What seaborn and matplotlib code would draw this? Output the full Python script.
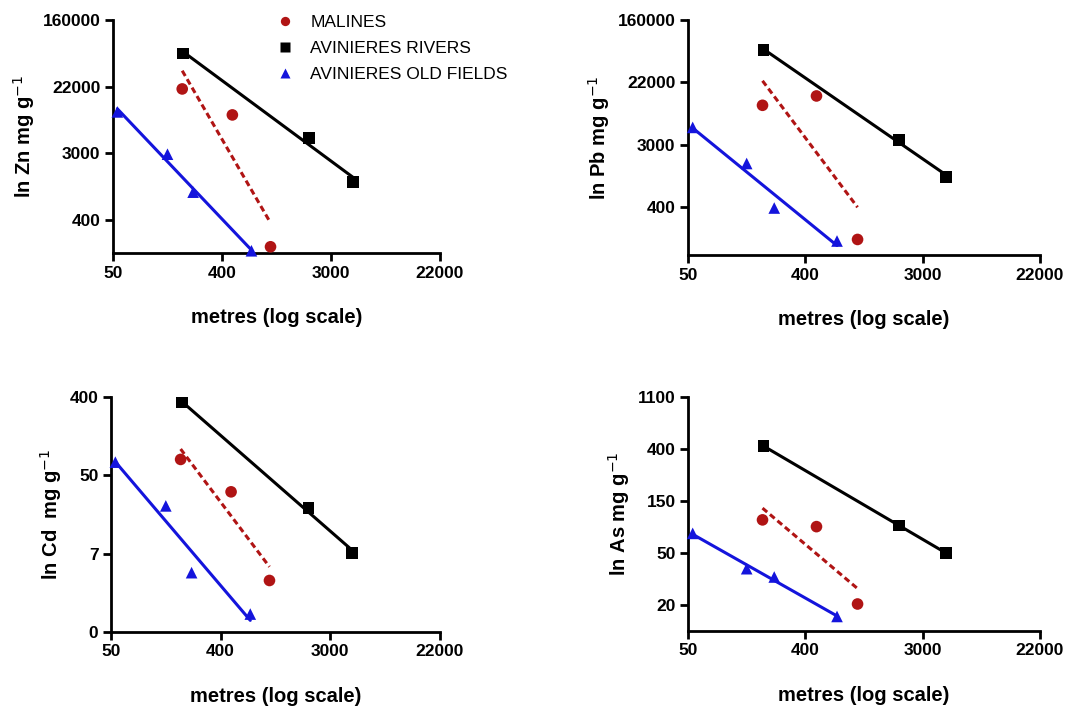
import numpy as np
import pandas as pd
import matplotlib
matplotlib.use("Agg")
import matplotlib.pyplot as plt
import seaborn as sns

# x ticks: ln(metres) 4,6,8,10 labelled with rounded exp values
x_ticks = [4, 6, 8, 10]
x_labels = ["50", "400", "3000", "22000"]

# ln distance of each sampling site
ln_dist_malines = [5.27, 6.19, 6.89]
ln_dist_rivers = [5.29, 7.60, 8.40]
ln_dist_fields = [4.08, 5.00, 5.47, 6.54]

# ln concentrations
zn_malines = [9.93, 9.15, 5.19]
zn_rivers = [10.99, 8.45, 7.13]
zn_fields = [9.24, 7.97, 6.83, 5.07]

pb_malines = [9.26, 9.56, 4.95]
pb_rivers = [11.04, 8.14, 6.96]
pb_fields = [8.55, 7.39, 5.96, 4.90]

cd_malines = [4.41, 3.58, 1.31]
cd_rivers = [5.87, 3.16, 2.01]
cd_fields = [4.34, 3.22, 1.51, 0.45]

as_malines = [4.64, 4.51, 3.02]
as_rivers = [6.06, 4.53, 4.00]
as_fields = [4.38, 3.70, 3.54, 2.78]

series = ["MALINES", "AVINIERES RIVERS", "AVINIERES OLD FIELDS"]
colors = {"MALINES": "#b01414", "AVINIERES RIVERS": "black", "AVINIERES OLD FIELDS": "#1414dc"}
markers = {"MALINES": "o", "AVINIERES RIVERS": "s", "AVINIERES OLD FIELDS": "^"}
dists = {"MALINES": ln_dist_malines, "AVINIERES RIVERS": ln_dist_rivers,
         "AVINIERES OLD FIELDS": ln_dist_fields}

panels = [
    dict(name="Zn", ylabel="ln Zn mg g$^{-1}$", vals=[zn_malines, zn_rivers, zn_fields],
         ylim=(5, 12), yticks=[6, 8, 10, 12], ylabels=["400", "3000", "22000", "160000"],
         rect=[0.1059, 0.642, 0.3065, 0.3297]),
    dict(name="Pb", ylabel="ln Pb mg g$^{-1}$", vals=[pb_malines, pb_rivers, pb_fields],
         ylim=(4.45, 12), yticks=[6, 8, 10, 12], ylabels=["400", "3000", "22000", "160000"],
         rect=[0.6448, 0.6393, 0.3299, 0.3324]),
    dict(name="Cd", ylabel="ln Cd  mg g$^{-1}$", vals=[cd_malines, cd_rivers, cd_fields],
         ylim=(0, 6), yticks=[0, 2, 4, 6], ylabels=["0", "7", "50", "400"],
         rect=[0.1040, 0.1066, 0.3084, 0.3314]),
    dict(name="As", ylabel="ln As mg g$^{-1}$", vals=[as_malines, as_rivers, as_fields],
         ylim=(2.5, 7), yticks=[3, 4, 5, 6, 7], ylabels=["20", "50", "150", "400", "1100"],
         rect=[0.6448, 0.1075, 0.3299, 0.3305]),
]

sns.set_style("ticks")
plt.rcParams["font.family"] = ["Liberation Sans", "DejaVu Sans"]
plt.rcParams["text.color"] = "black"
plt.rcParams["axes.labelcolor"] = "black"
plt.rcParams["xtick.color"] = "black"
plt.rcParams["ytick.color"] = "black"

fig = plt.figure(figsize=(10.67, 7.07), dpi=100)

for i, p in enumerate(panels):
    ax = fig.add_axes(p["rect"])
    rows = []
    for s, v in zip(series, p["vals"]):
        for x, y in zip(dists[s], v):
            rows.append({"x": x, "y": y, "site": s})
    df = pd.DataFrame(rows)

    for s in series:
        sub = df[df["site"] == s]
        if s == "MALINES":
            lkw = dict(lw=2.2, ls="--", dashes=(2.0, 1.2))
        else:
            lkw = dict(lw=2.2, ls="-")
        sns.regplot(data=sub, x="x", y="y", ax=ax, scatter=False, ci=None, truncate=True,
                    color=colors[s], line_kws=lkw)
    sns.scatterplot(data=df, x="x", y="y", hue="site", style="site", palette=colors,
                    markers=markers, s=70, edgecolor="none", ax=ax, legend=(i == 0),
                    clip_on=False, zorder=5)

    ax.set_xlim(4, 10)
    ax.set_ylim(*p["ylim"])
    ax.set_xticks(x_ticks)
    ax.set_xticklabels(x_labels)
    ax.set_yticks(p["yticks"])
    ax.set_yticklabels(p["ylabels"])
    for lab in ax.get_xticklabels() + ax.get_yticklabels():
        lab.set_fontweight("bold")
        lab.set_fontsize(12.5)
    ax.tick_params(width=2, length=6, direction="out", pad=3)
    for side in ["left", "bottom"]:
        ax.spines[side].set_linewidth(2)
        ax.spines[side].set_color("black")
    sns.despine(ax=ax)
    ax.set_xlabel("metres (log scale)", fontsize=14.5, fontweight="bold", labelpad=20)
    ax.set_ylabel(p["ylabel"], fontsize=14.5, fontweight="bold", labelpad=4)

    if i == 0:
        handles, labels = ax.get_legend_handles_labels()
        ax.legend(handles, labels, loc="upper left", bbox_to_anchor=(0.255, 0.979),
                  bbox_transform=fig.transFigure, frameon=False, fontsize=12.5,
                  borderpad=0, borderaxespad=0, handlelength=1.5, markerscale=0.8,
                  labelspacing=0.62, handletextpad=0.7)

fig.savefig("out.png", dpi=100)
